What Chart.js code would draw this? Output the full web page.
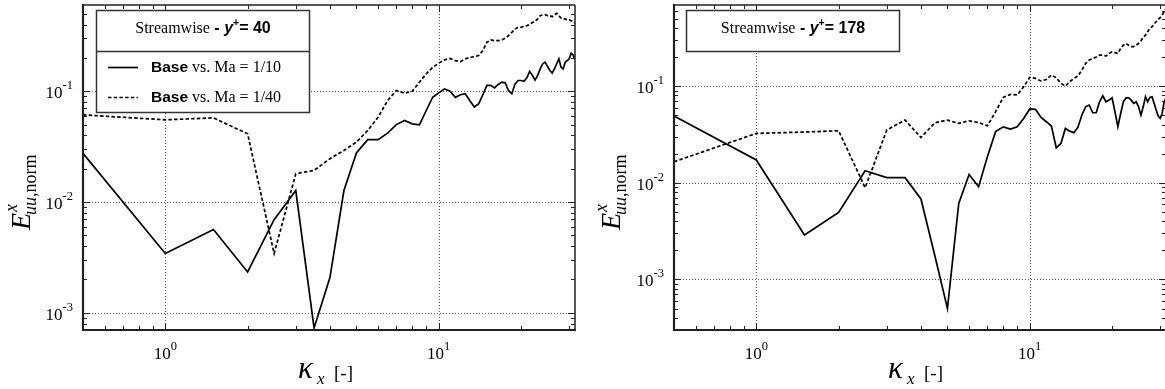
<!DOCTYPE html>
<html>
<head>
<meta charset="utf-8">
<script src="https://cdn.jsdelivr.net/npm/chart.js@4.4.0/dist/chart.umd.min.js"></script>
<style>
html, body { margin: 0; padding: 0; background: #fff; overflow: hidden; }
#wrap { position: relative; width: 1165px; height: 389px; overflow: hidden; }
canvas { position: absolute; top: 0; }
</style>
</head>
<body>
<div id="wrap">
  <canvas id="spec40" width="590" height="389" style="left:0"></canvas>
  <canvas id="spec178" width="600" height="389" style="left:590px"></canvas>
</div>
<script>
// wavenumbers kappa_x
const kappa = [0.5, 1, 1.5, 2, 2.5, 3, 3.5, 4, 4.5, 5, 5.5, 6, 6.5, 7, 7.5, 8, 8.5, 9, 9.5, 10,
  10.5, 11, 11.5, 12, 12.5, 13, 13.5, 14, 14.5, 15, 15.5, 16, 16.5, 17, 17.5, 18, 18.5, 19, 19.5, 20,
  20.5, 21, 21.5, 22, 22.5, 23, 23.5, 24, 24.5, 25, 25.5, 26, 26.5, 27, 27.5, 28, 28.5, 29, 29.5, 30,
  30.5, 31, 31.5]

// y+ = 40
const y40Ma10 = [0.0275, 0.00343, 0.00564, 0.00234, 0.00693, 0.0127, 0.00073, 0.00208, 0.0127, 0.0277,
  0.0365, 0.0365, 0.0419, 0.050, 0.0544, 0.0508, 0.0498, 0.067, 0.0883, 0.0967,
  0.105, 0.100, 0.088, 0.093, 0.095, 0.082, 0.072, 0.077, 0.093, 0.113,
  0.113, 0.107, 0.115, 0.121, 0.119, 0.101, 0.095, 0.116, 0.125, 0.125,
  0.123, 0.132, 0.151, 0.139, 0.126, 0.139, 0.159, 0.177, 0.183, 0.167,
  0.154, 0.146, 0.159, 0.177, 0.196, 0.165, 0.159, 0.183, 0.189, 0.196,
  0.22, 0.213, 0.192]
const y40Ma40 = [0.0612, 0.0552, 0.0575, 0.0413, 0.00343, 0.018, 0.0193, 0.0246, 0.0292, 0.0348,
  0.0443, 0.0583, 0.0824, 0.1015, 0.096, 0.100, 0.1205, 0.1435, 0.164, 0.179,
  0.192, 0.198, 0.189, 0.185, 0.196, 0.202, 0.205, 0.21, 0.233, 0.277,
  0.29, 0.286, 0.286, 0.29, 0.301, 0.318, 0.34, 0.364, 0.378, 0.378,
  0.384, 0.391, 0.40, 0.417, 0.427, 0.449, 0.481, 0.488, 0.491, 0.481,
  0.481, 0.471, 0.491, 0.505, 0.481, 0.458, 0.449, 0.449, 0.44, 0.44,
  0.432, 0.427, 0.41]

// y+ = 178
const y178Ma10 = [0.049, 0.0172, 0.00288, 0.00494, 0.0133, 0.0113, 0.0113, 0.0068, 0.00175, 0.000502,
  0.00612, 0.0122, 0.0091, 0.0186, 0.0338, 0.0379, 0.036, 0.038, 0.0463, 0.058,
  0.0574, 0.0474, 0.0428, 0.0386, 0.023, 0.0255, 0.0365, 0.0342, 0.033, 0.0374,
  0.050, 0.061, 0.0636, 0.053, 0.053, 0.0689, 0.0794, 0.0689, 0.0716, 0.0757,
  0.0542, 0.038, 0.0521, 0.0689, 0.0757, 0.0757, 0.0716, 0.0663, 0.0689, 0.061,
  0.050, 0.061, 0.0776, 0.0689, 0.0765, 0.0776, 0.0663, 0.0565, 0.049, 0.0463,
  0.0521, 0.0689, 0.075]
const y178Ma40 = [0.0165, 0.0324, 0.0335, 0.0345, 0.0089, 0.0351, 0.0445, 0.0294, 0.0418, 0.0445,
  0.0411, 0.0438, 0.042, 0.0389, 0.0542, 0.0764, 0.082, 0.081, 0.0984, 0.123,
  0.12, 0.113, 0.117, 0.13, 0.122, 0.107, 0.100, 0.111, 0.12, 0.127,
  0.146, 0.171, 0.186, 0.193, 0.2, 0.209, 0.209, 0.205, 0.218, 0.226,
  0.222, 0.218, 0.245, 0.265, 0.276, 0.265, 0.256, 0.256, 0.265, 0.276,
  0.293, 0.32, 0.336, 0.365, 0.397, 0.41, 0.438, 0.463, 0.49, 0.51,
  0.544, 0.586, 0.63]

// decade ticks, labels as [base, exponent]
const xMajor = [1, 10]
const xMajorLabels = [["10", "0"], ["10", "1"]]
const yMajor = [0.001, 0.01, 0.1]
const yMajorLabels = [["10", "-3"], ["10", "-2"], ["10", "-1"]]
const xMinor = [0.6, 0.7, 0.8, 0.9, 2, 3, 4, 5, 6, 7, 8, 9, 20, 30]

const serif = '"Liberation Serif", "DejaVu Serif", serif'
const sans = '"Liberation Sans", Arial, sans-serif'

// parts: [text, font, dy]
function rich(ctx, parts, x, y, align) {
  let w = 0
  parts.forEach(p => { ctx.font = p[1]; w += ctx.measureText(p[0]).width })
  let cx = align === 'center' ? x - w / 2 : (align === 'right' ? x - w : x)
  parts.forEach(p => {
    ctx.font = p[1]
    ctx.fillText(p[0], cx, y + (p[2] || 0))
    cx += ctx.measureText(p[0]).width
  })
}

function seg(ctx, x1, y1, x2, y2) {
  ctx.beginPath()
  ctx.moveTo(x1, y1)
  ctx.lineTo(x2, y2)
  ctx.stroke()
}

const framePlugin = {
  id: 'frame',
  beforeDatasetsDraw(chart) {
    const { ctx, chartArea: a, scales: { x, y } } = chart
    ctx.save()
    ctx.strokeStyle = '#555'
    ctx.lineWidth = 1
    ctx.setLineDash([1, 2])
    xMajor.forEach(v => {
      const px = Math.round(x.getPixelForValue(v)) + 0.5
      seg(ctx, px, a.top, px, a.bottom)
    })
    yMajor.forEach(v => {
      const py = Math.round(y.getPixelForValue(v)) + 0.5
      if (py > a.top && py < a.bottom) seg(ctx, a.left, py, a.right, py)
    })
    ctx.restore()
  },
  afterDraw(chart, args, opts) {
    const { ctx, chartArea: a, scales: { x, y } } = chart
    ctx.save()
    ctx.strokeStyle = '#222'
    ctx.fillStyle = '#111'

    // inward ticks on all four sides
    ctx.lineWidth = 1
    xMinor.forEach(v => {
      const px = Math.round(x.getPixelForValue(v)) + 0.5
      seg(ctx, px, a.bottom, px, a.bottom - 4)
      seg(ctx, px, a.top, px, a.top + 4)
    })
    xMajor.forEach(v => {
      const px = Math.round(x.getPixelForValue(v)) + 0.5
      seg(ctx, px, a.bottom, px, a.bottom - 7)
      seg(ctx, px, a.top, px, a.top + 7)
    })
    const ymin = y.min, ymax = y.max
    for (let d = 1e-4; d < 1; d *= 10) {
      for (let m = 1; m < 10; m++) {
        const v = d * m
        if (v < ymin || v > ymax) continue
        const py = Math.round(y.getPixelForValue(v)) + 0.5
        const len = m === 1 ? 7 : 4
        seg(ctx, a.left, py, a.left + len, py)
        seg(ctx, a.right, py, a.right - len, py)
      }
    }

    // box
    ctx.lineWidth = 1.5
    seg(ctx, a.left, a.top, a.right, a.top)
    seg(ctx, a.right, a.top, a.right, a.bottom)
    ctx.lineWidth = 2.2
    seg(ctx, a.left - 1, a.bottom, a.right + 1, a.bottom)
    seg(ctx, a.left, a.top - 1, a.left, a.bottom)

    // tick labels
    ctx.textBaseline = 'alphabetic'
    ctx.fillStyle = '#000'
    xMajor.forEach((v, i) => {
      const px = x.getPixelForValue(v)
      const [b, e] = xMajorLabels[i]
      rich(ctx, [[b, '17px ' + serif], [e, '12.5px ' + serif, -9]], px, 359, 'center')
    })
    yMajor.forEach((v, i) => {
      const py = y.getPixelForValue(v)
      const [b, e] = yMajorLabels[i]
      rich(ctx, [[b, '17px ' + serif], [e, '12.5px ' + serif, -9]], a.left - 10, py + 7, 'right')
    })

    // x axis title
    rich(ctx, [['\u03ba', 'italic 31px ' + serif]], 298, 378, 'left')
    rich(ctx, [['x', 'italic 17px ' + serif]], 317, 384, 'left')
    rich(ctx, [['[-]', '19px ' + serif]], 334, 379, 'left')

    // y axis title, rotated
    ctx.save()
    ctx.translate(30, 230)
    ctx.rotate(-Math.PI / 2)
    ctx.font = 'italic 28px ' + serif
    ctx.fillText('E', 0, 0)
    const ew = ctx.measureText('E').width
    ctx.font = 'italic 18px ' + serif
    ctx.fillText('x', ew + 1, -13)
    rich(ctx, [['uu', 'italic 18px ' + serif], [',norm', '18px ' + serif]], ew - 2, 6, 'left')
    ctx.restore()

    // legend box
    const lg = opts.legend
    const bx = 96.5, by = 10.5, bw = 213
    const bh = lg.entries.length ? 102 : 41
    ctx.fillStyle = '#fff'
    ctx.fillRect(bx, by, bw, bh)
    ctx.strokeStyle = '#333'
    ctx.lineWidth = 1.5
    ctx.strokeRect(bx, by, bw, bh)
    ctx.fillStyle = '#000'
    rich(ctx, [
      ['Streamwise', '16px ' + serif],
      [' - ', 'bold 16px ' + sans],
      ['y', 'bold italic 16px ' + sans],
      ['+', 'bold 10.5px ' + sans, -7],
      ['= ' + lg.yplus, 'bold 16px ' + sans]
    ], bx + bw / 2, 33, 'center')
    if (lg.entries.length) {
      seg(ctx, bx, by + 41, bx + bw, by + 41)
      lg.entries.forEach((en, i) => {
        const ly = 67 + i * 30
        ctx.strokeStyle = '#000'
        ctx.lineWidth = 1.7
        ctx.setLineDash(en.dash)
        seg(ctx, 108, ly + 0.5, 138, ly + 0.5)
        ctx.setLineDash([])
        rich(ctx, [['Base', 'bold 15.5px ' + sans], [' vs. Ma = ' + en.ma, '16px ' + serif]], 151, ly + 5, 'left')
      })
    }
    ctx.restore()
  }
}

function makePanel(id, ma10, ma40, yMin, yMax, yplus, entries, areaLeft, areaRight, canvasWidth) {
  const pts = vals => kappa.map((k, i) => ({ x: k, y: vals[i] }))
  return new Chart(document.getElementById(id), {
    type: 'line',
    data: {
      datasets: [
        { label: 'Ma = 1/10', data: pts(ma10), borderColor: '#000', borderWidth: 1.7, pointRadius: 0, tension: 0 },
        { label: 'Ma = 1/40', data: pts(ma40), borderColor: '#000', borderWidth: 1.7, borderDash: [3.5, 2.2], pointRadius: 0, tension: 0 }
      ]
    },
    options: {
      responsive: false,
      animation: false,
      events: [],
      layout: { padding: { top: 5, right: canvasWidth - areaRight, left: 0, bottom: 0 } },
      scales: {
        x: {
          type: 'logarithmic', min: 0.5, max: 31.5,
          ticks: { display: false }, grid: { display: false }, border: { display: false },
          afterFit: s => { s.height = 59 }
        },
        y: {
          type: 'logarithmic', min: yMin, max: yMax,
          ticks: { display: false }, grid: { display: false }, border: { display: false },
          afterFit: s => { s.width = areaLeft }
        }
      },
      plugins: {
        legend: { display: false },
        tooltip: { enabled: false },
        frame: { legend: { yplus: yplus, entries: entries } }
      }
    },
    plugins: [framePlugin]
  })
}

makePanel('spec40', y40Ma10, y40Ma40, 0.0007, 0.6, '40',
  [{ ma: '1/10', dash: [] }, { ma: '1/40', dash: [3.5, 2.2] }], 83, 575, 590)
makePanel('spec178', y178Ma10, y178Ma40, 0.0003, 0.69, '178', [], 84, 576, 600)
</script>
</body>
</html>
